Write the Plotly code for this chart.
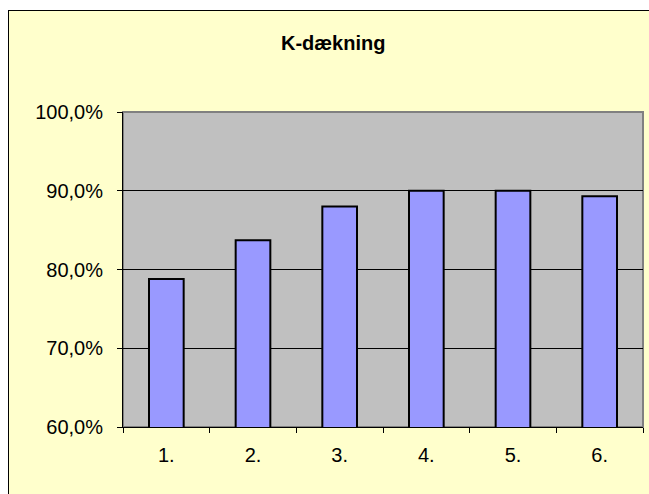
import plotly.graph_objects as go

# Data
categories = ["1.", "2.", "3.", "4.", "5.", "6."]
coverage = [0.788, 0.837, 0.880, 0.900, 0.900, 0.893]
y_ticks = [0.6, 0.7, 0.8, 0.9, 1.0]

# plot area in screen pixels
W, H = 649, 494
L, R, T, B = 123, 643, 112, 427
pw, ph = R - L, B - T


def px_x(px):
    return (px - L) / pw


def px_y(py):
    return (B - py) / ph


fig = go.Figure()

fig.add_trace(go.Bar(
    x=categories,
    y=coverage,
    width=0.4,
    marker=dict(color="#9999FF", line=dict(color="black", width=2)),
))

# white strip above / left of the chart frame, frame edges (left, top)
fig.add_shape(type="rect", xref="paper", yref="paper",
              x0=px_x(0), x1=px_x(W), y0=px_y(10), y1=px_y(0),
              fillcolor="white", line=dict(width=0), layer="below")
fig.add_shape(type="rect", xref="paper", yref="paper",
              x0=px_x(0), x1=px_x(8), y0=px_y(H), y1=px_y(0),
              fillcolor="white", line=dict(width=0), layer="below")
fig.add_shape(type="line", xref="paper", yref="paper",
              x0=px_x(8.5), x1=px_x(8.5), y0=px_y(H), y1=px_y(10),
              line=dict(color="black", width=1), layer="below")
fig.add_shape(type="line", xref="paper", yref="paper",
              x0=px_x(8), x1=px_x(W), y0=px_y(10.5), y1=px_y(10.5),
              line=dict(color="black", width=1), layer="below")
# grey plot area
fig.add_shape(type="rect", xref="paper", yref="paper",
              x0=0, x1=1, y0=0, y1=1,
              fillcolor="#C0C0C0", line=dict(color="#808080", width=2), layer="below")

fig.add_annotation(text="<b>K-dækning</b>", xref="paper", yref="paper",
                   x=px_x(333), y=px_y(43), xanchor="center", yanchor="middle",
                   showarrow=False, font=dict(size=20, color="black"))

fig.update_layout(
    width=W, height=H,
    margin=dict(l=L, r=W - R, t=T, b=H - B),
    paper_bgcolor="#FFFFCC",
    plot_bgcolor="rgba(0,0,0,0)",
    separators=", ",
    showlegend=False,
    font=dict(family="Liberation Sans, Arial", size=20, color="black"),
)
fig.update_yaxes(
    range=[0.6, 1.0], tickvals=y_ticks, tickformat=".1%",
    showgrid=True, gridcolor="black", gridwidth=1,
    showline=True, linecolor="black", linewidth=1,
    ticks="outside", ticklen=5, tickcolor="black", zeroline=False,
    ticklabelstandoff=10,
)
fig.update_xaxes(
    showgrid=False, showline=True, linecolor="black", linewidth=1,
    ticks="outside", ticklen=5, tickcolor="black", tickson="boundaries",
    ticklabelstandoff=10,
)

# drop the default page margin so the figure fills the window
fig.write_html("out.html", config={"displayModeBar": False},
               post_script="document.body.style.margin='0';document.body.style.overflow='hidden';")
